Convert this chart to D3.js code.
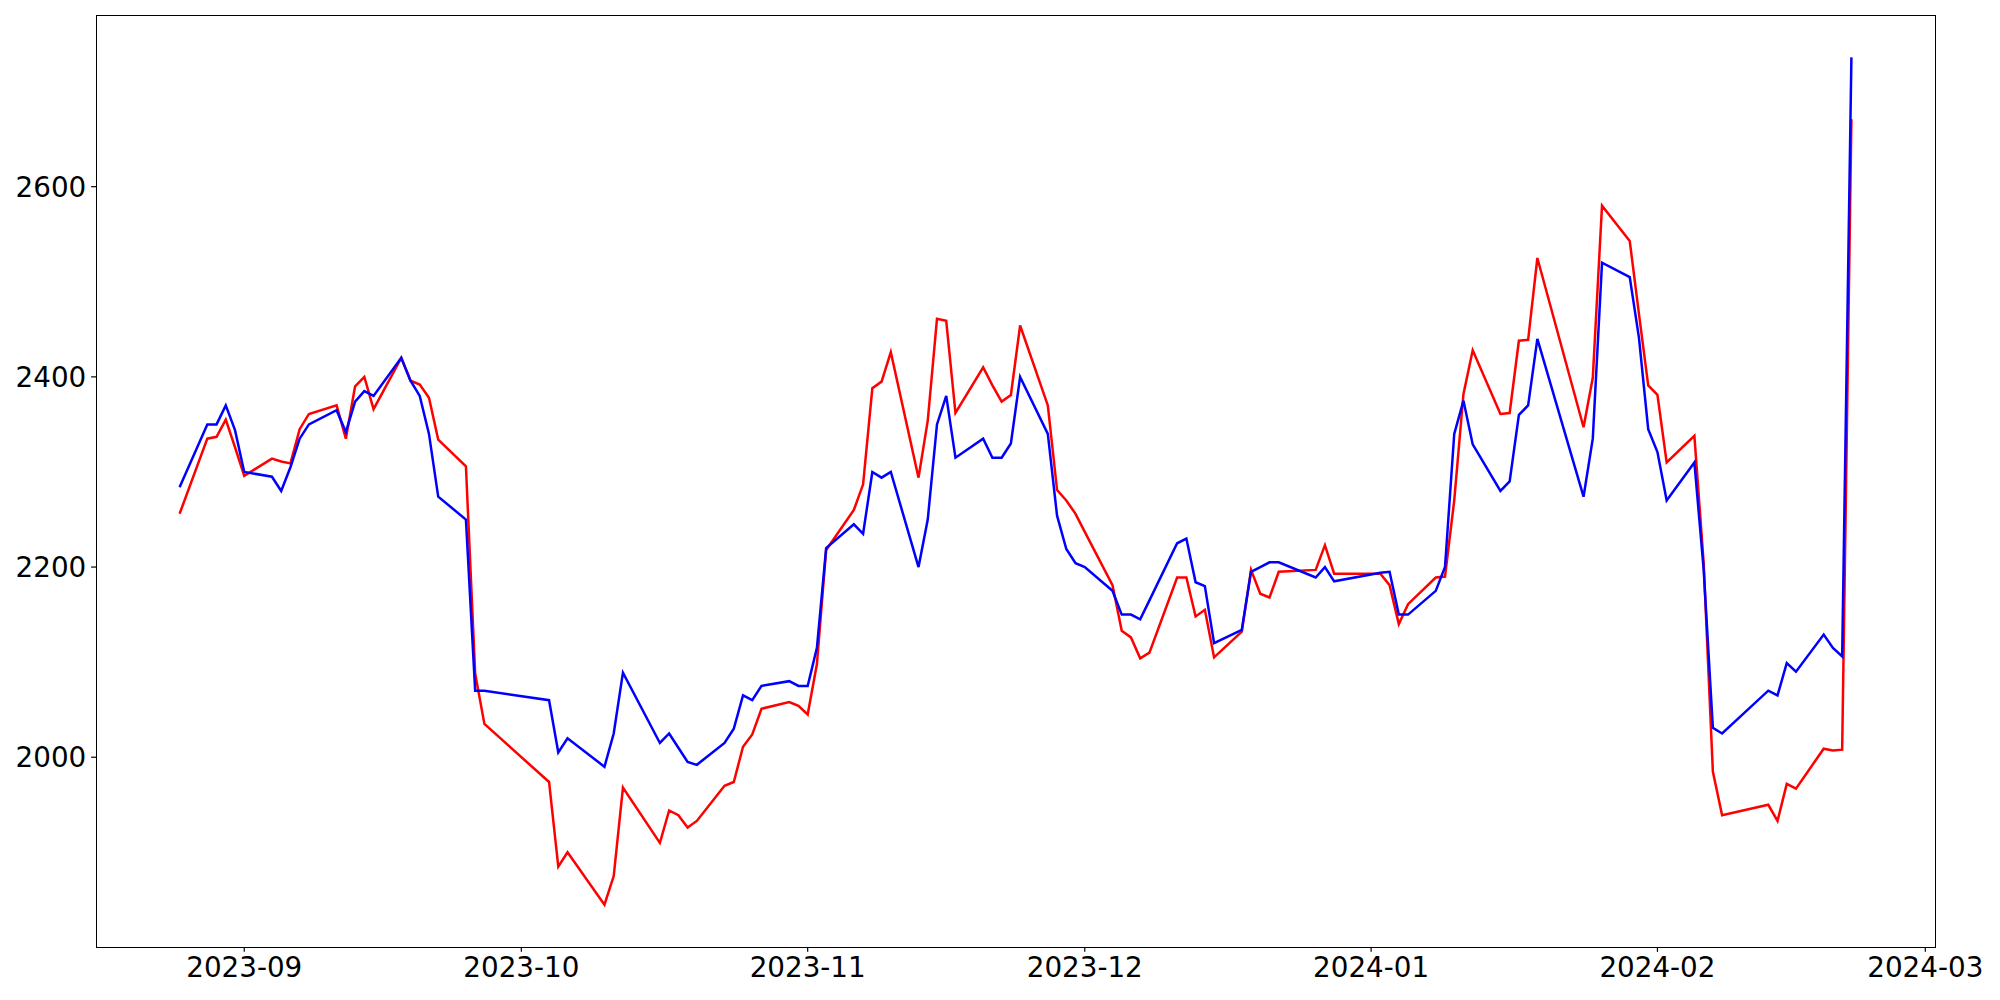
<!DOCTYPE html>
<html>
<head>
<meta charset="utf-8">
<script src="https://cdn.jsdelivr.net/npm/d3@7"></script>
<style>
  html, body { margin: 0; padding: 0; background: #ffffff; }
  svg { display: block; }
  text { font-family: "DejaVu Sans", sans-serif; }
</style>
</head>
<body>
<svg id="chart" width="2000" height="1000"></svg>
<script>
// ---- data ----
const dates = [
  "2023-08-25","2023-08-28","2023-08-29","2023-08-30","2023-08-31",
  "2023-09-01","2023-09-04","2023-09-05","2023-09-06","2023-09-07","2023-09-08",
  "2023-09-11","2023-09-12","2023-09-13","2023-09-14","2023-09-15",
  "2023-09-18","2023-09-19","2023-09-20","2023-09-21","2023-09-22",
  "2023-09-25","2023-09-26","2023-09-27",
  "2023-10-04","2023-10-05","2023-10-06","2023-10-10","2023-10-11","2023-10-12",
  "2023-10-16","2023-10-17","2023-10-18","2023-10-19","2023-10-20",
  "2023-10-23","2023-10-24","2023-10-25","2023-10-26","2023-10-27",
  "2023-10-30","2023-10-31",
  "2023-11-01","2023-11-02","2023-11-03","2023-11-06","2023-11-07","2023-11-08","2023-11-09","2023-11-10",
  "2023-11-13","2023-11-14","2023-11-15","2023-11-16","2023-11-17",
  "2023-11-20","2023-11-21","2023-11-22","2023-11-23","2023-11-24",
  "2023-11-27","2023-11-28","2023-11-29","2023-11-30",
  "2023-12-01","2023-12-04","2023-12-05","2023-12-06","2023-12-07","2023-12-08",
  "2023-12-11","2023-12-12","2023-12-13","2023-12-14","2023-12-15",
  "2023-12-18","2023-12-19","2023-12-20","2023-12-21","2023-12-22",
  "2023-12-26","2023-12-27","2023-12-28",
  "2024-01-02","2024-01-03","2024-01-04","2024-01-05",
  "2024-01-08","2024-01-09","2024-01-10","2024-01-11","2024-01-12",
  "2024-01-15","2024-01-16","2024-01-17","2024-01-18","2024-01-19",
  "2024-01-24","2024-01-25","2024-01-26","2024-01-29","2024-01-30","2024-01-31",
  "2024-02-01","2024-02-02","2024-02-05","2024-02-06","2024-02-07","2024-02-08",
  "2024-02-13","2024-02-14","2024-02-15","2024-02-16",
  "2024-02-19","2024-02-20","2024-02-21","2024-02-22"
];

const redValues = [
  2256, 2335, 2337, 2355, 2326,
  2296, 2314, 2311, 2309, 2345, 2361,
  2370, 2335, 2390, 2400, 2366,
  2420, 2396, 2392, 2378, 2334,
  2306, 2088, 2035,
  1974, 1885, 1900, 1845, 1875, 1968,
  1910, 1944, 1939, 1926, 1933,
  1970, 1974, 2011, 2024, 2051,
  2058, 2054,
  2045, 2098, 2218, 2260, 2287, 2388, 2395, 2426,
  2294, 2354, 2461, 2459, 2362,
  2410, 2391, 2374, 2381, 2454,
  2370, 2281, 2270, 2256,
  2237, 2181, 2133, 2126, 2104, 2110,
  2189, 2189, 2148, 2155, 2105,
  2132, 2197, 2172, 2168, 2195,
  2197, 2223, 2193,
  2193, 2181, 2140, 2161,
  2189, 2190, 2270, 2382, 2428,
  2361, 2362, 2438, 2439, 2525,
  2347, 2399, 2580, 2543, 2466, 2391,
  2381, 2310, 2338, 2205, 1985, 1939,
  1950, 1933, 1972, 1967,
  2009, 2007, 2008, 2671
];

const blueValues = [
  2284, 2350, 2350, 2370, 2344,
  2300, 2295, 2280, 2305, 2335, 2350,
  2365, 2342, 2374, 2385, 2380,
  2420, 2396, 2380, 2340, 2274,
  2250, 2070, 2070,
  2060, 2005, 2020, 1990, 2025, 2089,
  2015, 2025, 2010, 1995, 1992,
  2015, 2030, 2065, 2060, 2075,
  2080, 2075,
  2075, 2115, 2220, 2245, 2235, 2300, 2294, 2300,
  2200, 2250, 2350, 2380, 2315,
  2335, 2315, 2315, 2330, 2400,
  2340, 2254, 2219, 2204,
  2200, 2175, 2150, 2150, 2145, 2165,
  2225, 2230, 2184, 2180, 2120,
  2134, 2195, 2200, 2205, 2205,
  2189, 2200, 2185,
  2194, 2195, 2150, 2150,
  2175, 2200, 2340, 2375, 2329,
  2280, 2290, 2360, 2370, 2440,
  2274, 2335, 2520, 2505, 2441, 2345,
  2321, 2270, 2310, 2198, 2031, 2025,
  2070, 2065, 2099, 2090,
  2129, 2115, 2106, 2736
];

const yTickValues = [2000, 2200, 2400, 2600];
const xTickLabels = ["2023-09", "2023-10", "2023-11", "2023-12", "2024-01", "2024-02", "2024-03"];

// ---- layout ----
const W = 2000, H = 1000;
const plot = { left: 96, right: 1935, top: 15, bottom: 947 };
const FONT = 27.78;        // 20pt at 100 dpi
const TICK = 4.86;         // 3.5pt
const PAD = 4.86;

const parse = d3.utcParse("%Y-%m-%d");
const xDates = dates.map(parse);

// matplotlib-like 5% margins
const xMin = d3.min(xDates), xMax = d3.max(xDates);
const xSpan = xMax - xMin;
const x = d3.scaleUtc()
  .domain([new Date(+xMin - 0.05 * xSpan), new Date(+xMax + 0.05 * xSpan)])
  .range([plot.left, plot.right]);

const allVals = redValues.concat(blueValues);
const yMin = d3.min(allVals), yMax = d3.max(allVals);
const ySpan = yMax - yMin;
const y = d3.scaleLinear()
  .domain([yMin - 0.05 * ySpan, yMax + 0.05 * ySpan])
  .range([plot.bottom, plot.top]);

const svg = d3.select("#chart");
svg.append("rect").attr("width", W).attr("height", H).attr("fill", "#ffffff");

// clip
svg.append("defs").append("clipPath").attr("id", "clip")
  .append("rect")
  .attr("x", plot.left).attr("y", plot.top)
  .attr("width", plot.right - plot.left).attr("height", plot.bottom - plot.top);

const line = (vals) => d3.line()
  .x((d, i) => x(xDates[i]))
  .y(d => y(d))(vals);

const g = svg.append("g").attr("clip-path", "url(#clip)");
g.append("path").attr("d", line(redValues))
  .attr("fill", "none").attr("stroke", "#ff0000").attr("stroke-width", 2.5)
  .attr("stroke-linejoin", "miter").attr("stroke-linecap", "butt");
g.append("path").attr("d", line(blueValues))
  .attr("fill", "none").attr("stroke", "#0000ff").attr("stroke-width", 2.5)
  .attr("stroke-linejoin", "miter").attr("stroke-linecap", "butt");

// spines
svg.append("rect")
  .attr("x", plot.left + 0.5).attr("y", plot.top + 0.5)
  .attr("width", plot.right - plot.left).attr("height", plot.bottom - plot.top)
  .attr("fill", "none").attr("stroke", "#000").attr("stroke-width", 1.2)
  .attr("shape-rendering", "crispEdges");

// x axis
const xTicks = xTickLabels.map(s => d3.utcParse("%Y-%m")(s));
const xa = svg.append("g");
xTicks.forEach((t, i) => {
  const px = x(t);
  xa.append("line").attr("x1", px).attr("x2", px)
    .attr("y1", plot.bottom).attr("y2", plot.bottom + TICK)
    .attr("stroke", "#000").attr("stroke-width", 1.2);
  xa.append("text").attr("x", px).attr("y", plot.bottom + TICK + PAD + 20.5)
    .attr("text-anchor", "middle").attr("font-size", FONT).attr("fill", "#000")
    .text(xTickLabels[i]);
});

// y axis
const ya = svg.append("g");
yTickValues.forEach(v => {
  const py = y(v);
  ya.append("line").attr("x1", plot.left - TICK).attr("x2", plot.left)
    .attr("y1", py).attr("y2", py)
    .attr("stroke", "#000").attr("stroke-width", 1.2);
  ya.append("text").attr("x", plot.left - TICK - PAD).attr("y", py + 10.1)
    .attr("text-anchor", "end").attr("font-size", FONT).attr("fill", "#000")
    .text(d3.format("d")(v));
});
</script>
</body>
</html>
